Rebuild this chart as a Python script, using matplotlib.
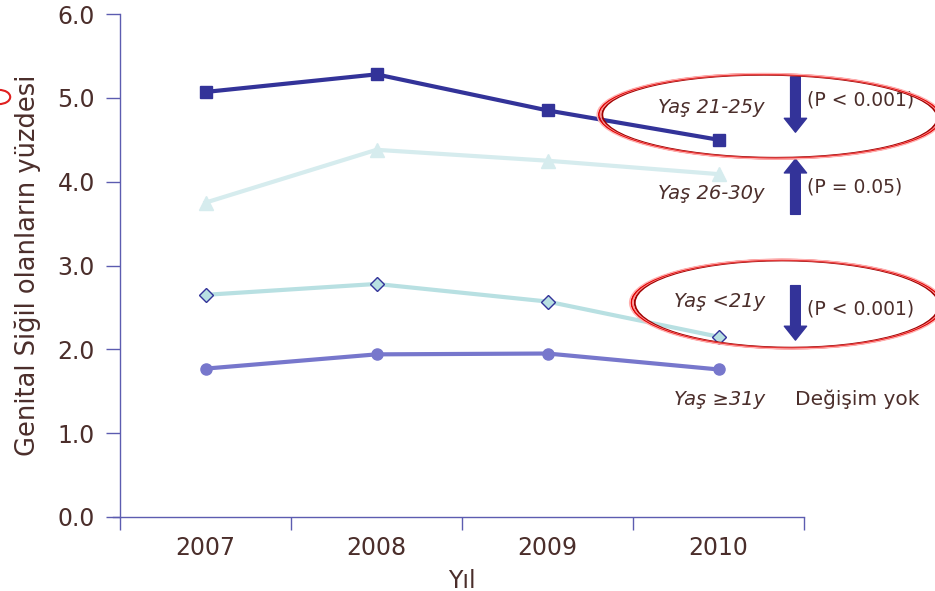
import matplotlib
matplotlib.use('Agg')
from matplotlib import pyplot as pl
from matplotlib.patches import Ellipse, Circle

# Yearly percentages by age group
years = ['2007', '2008', '2009', '2010']
age_21_25 = [5.07, 5.28, 4.85, 4.50]
age_26_30 = [3.75, 4.38, 4.25, 4.09]
age_under21 = [2.65, 2.78, 2.57, 2.15]
age_31plus = [1.77, 1.94, 1.95, 1.76]

yticks = [0.0, 1.0, 2.0, 3.0, 4.0, 5.0, 6.0]

brown = '#4b2e2b'
navy = '#333399'
axcol = '#5c5cb0'

pl.rcParams['font.family'] = ['DejaVu Sans']

fig = pl.figure(figsize=(9.35, 5.91), dpi=100)
ax = fig.add_axes([120/935, 1-517/591, 684/935, 503/591])

x = list(range(len(years)))

ax.plot(x, age_21_25, color=navy, lw=3, marker='s', ms=9,
        mfc=navy, mec=navy, zorder=4)
ax.plot(x, age_26_30, color='#d6ecee', lw=3, marker='^', ms=10,
        mfc='#d6ecee', mec='#d6ecee', zorder=3)
ax.plot(x, age_under21, color='#b8e0e2', lw=3, marker='D', ms=7,
        mfc='#b8e0e2', mec=navy, mew=1, zorder=3)
ax.plot(x, age_31plus, color='#7777cc', lw=3, marker='o', ms=8,
        mfc='#7777cc', mec='#7777cc', zorder=3)

ax.set_xlim(-0.5, 3.5)
ax.set_ylim(0, 6)
ax.set_yticks(yticks)
ax.set_yticklabels(['%.1f' % v for v in yticks])
ax.set_xticks(x)
ax.set_xticklabels(years)
ax.set_xticks([-0.5, 0.5, 1.5, 2.5, 3.5], minor=True)
ax.tick_params(axis='x', which='major', length=0, pad=14,
               labelsize=17, labelcolor=brown)
ax.tick_params(axis='x', which='minor', length=9, width=1, color=axcol,
               direction='out')
ax.tick_params(axis='y', length=10, width=1, color=axcol, direction='out',
               labelsize=17, labelcolor=brown, pad=8)

for side in ['top', 'right']:
    ax.spines[side].set_visible(False)
for side in ['left', 'bottom']:
    ax.spines[side].set_color(axcol)
    ax.spines[side].set_linewidth(1)
# bottom axis line runs a little past the vertical axis
ax.spines['bottom'].set_bounds(-0.54, 3.5)

ax.set_ylabel('Genital Siğil olanların yüzdesi', fontsize=18.5,
              color=brown, labelpad=12)
ax.set_xlabel('Yıl', fontsize=17, color=brown, labelpad=6)

# Group labels next to the last point
lab = dict(fontsize=14, color=brown, style='italic', ha='right',
           va='center')
ax.text(3.27, 4.88, 'Yaş 21-25y', **lab)
ax.text(3.27, 3.86, 'Yaş 26-30y', **lab)
ax.text(3.27, 2.57, 'Yaş <21y', **lab)
ax.text(3.27, 1.40, 'Yaş ≥31y', **lab)

ptxt = dict(fontsize=13.5, color=brown, ha='left', va='center')
ax.text(3.52, 4.98, '(P < 0.001)', **ptxt)
ax.text(3.52, 3.94, '(P = 0.05)', **ptxt)
ax.text(3.52, 2.48, '(P < 0.001)', **ptxt)
ax.text(3.45, 1.40, 'Değişim yok', fontsize=14.5, color=brown,
        ha='left', va='center')

# Trend arrows
arw = dict(width=7, headwidth=16, headlength=10, color=navy, shrink=0)
ax.annotate('', xy=(3.45, 4.59), xytext=(3.45, 5.25), arrowprops=arw,
            annotation_clip=False)
ax.annotate('', xy=(3.45, 4.27), xytext=(3.45, 3.61), arrowprops=arw,
            annotation_clip=False)
ax.annotate('', xy=(3.45, 2.11), xytext=(3.45, 2.76), arrowprops=arw,
            annotation_clip=False)

# Red highlight rings around significant decreases
for cx, cy, w, h in [(3.30, 4.78, 1.96, 0.99), (3.40, 2.54, 1.78, 1.04)]:
    for dw, col, lw in [(0.0, '#a00000', 1.4), (0.02, '#ff9090', 1.0),
                        (0.04, '#e00000', 1.2), (0.06, '#ffb0b0', 1.0)]:
        e = Ellipse((cx, cy), w + dw, h + dw * 0.5, angle=-1.5,
                    fill=False, edgecolor=col, lw=lw, clip_on=False,
                    zorder=5)
        ax.add_patch(e)

fig.add_artist(Circle((-1/935, 1-97/591), 0.012, transform=fig.transFigure,
                      fill=False, edgecolor='#e02020', lw=1.5))

fig.savefig('out.png', dpi=100)
